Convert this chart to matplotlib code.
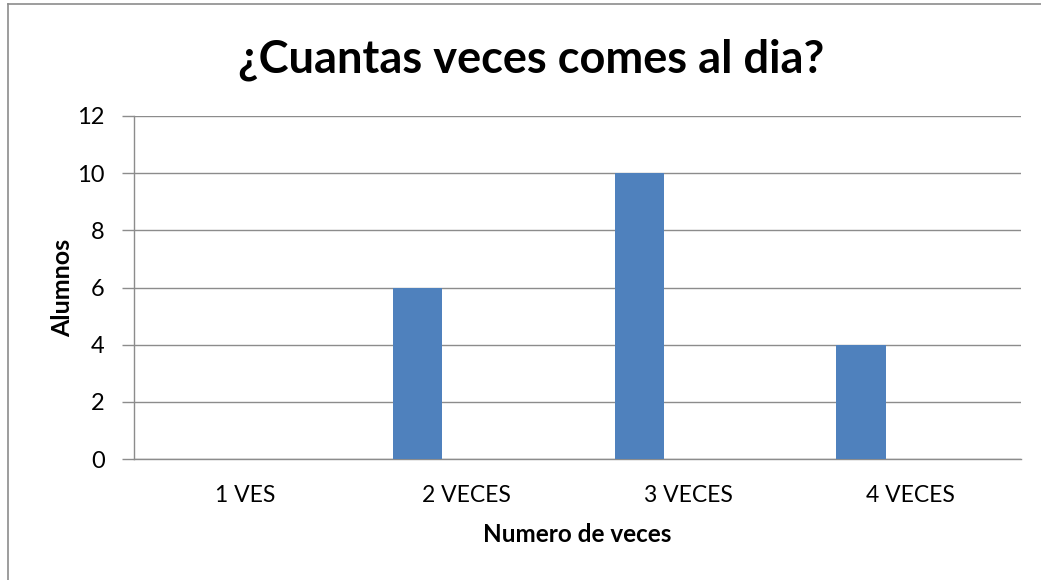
import matplotlib
matplotlib.use("Agg")
import matplotlib.pyplot as plt
from matplotlib.lines import Line2D
import numpy as np

plt.rcParams.update({
    "font.family": ["Lato", "DejaVu Sans"],
})

categories = ["1 VES", "2 VECES", "3 VECES", "4 VECES"]
alumnos = [0, 6, 10, 4]
yticks = [0, 2, 4, 6, 8, 10, 12]

BAR_COLOR = "#4f81bd"
GRID_COLOR = "#8c8c8c"

W, H = 1041, 580
fig = plt.figure(figsize=(W / 100, H / 100), dpi=100)
# plot area in pixels: x 134..1021, y 116..459
ax = fig.add_axes([134 / W, 1 - 459 / H, (1021 - 134) / W, (459 - 116) / H])

x = np.arange(len(categories))
ax.bar(x - 0.222, alumnos, width=0.222, color=BAR_COLOR, zorder=3)

ax.set_xlim(-0.5, len(categories) - 0.5)
ax.set_ylim(0, 12)
ax.set_yticks(yticks)
ax.set_xticks(x)
ax.set_xticklabels(categories)
ax.yaxis.grid(True, color=GRID_COLOR, lw=1.0, zorder=0)
ax.tick_params(axis="y", length=9, width=1.0, color=GRID_COLOR,
               labelsize=17, pad=12)
ax.tick_params(axis="x", length=0, labelsize=16.5, pad=19)

for side in ["top", "right"]:
    ax.spines[side].set_visible(False)
for side in ["left", "bottom"]:
    ax.spines[side].set_color(GRID_COLOR)
    ax.spines[side].set_linewidth(1.0)

ax.set_ylabel("Alumnos", fontsize=18, fontweight="bold", labelpad=2)
ax.set_xlabel("Numero de veces", fontsize=17.5, fontweight="bold", labelpad=12)

fig.text(531 / W, 1 - 60 / H, "¿Cuantas veces comes al dia?",
         ha="center", va="center", fontsize=32.5, fontweight="bold")

# chart area border (top and left edges visible)
fig.add_artist(Line2D([8 / W, 1], [1 - 4 / H, 1 - 4 / H],
                      transform=fig.transFigure, color="#8c8c8c", lw=1.2))
fig.add_artist(Line2D([8 / W, 8 / W], [0, 1 - 4 / H],
                      transform=fig.transFigure, color="#8c8c8c", lw=1.2))

fig.savefig("out.png", dpi=100)
